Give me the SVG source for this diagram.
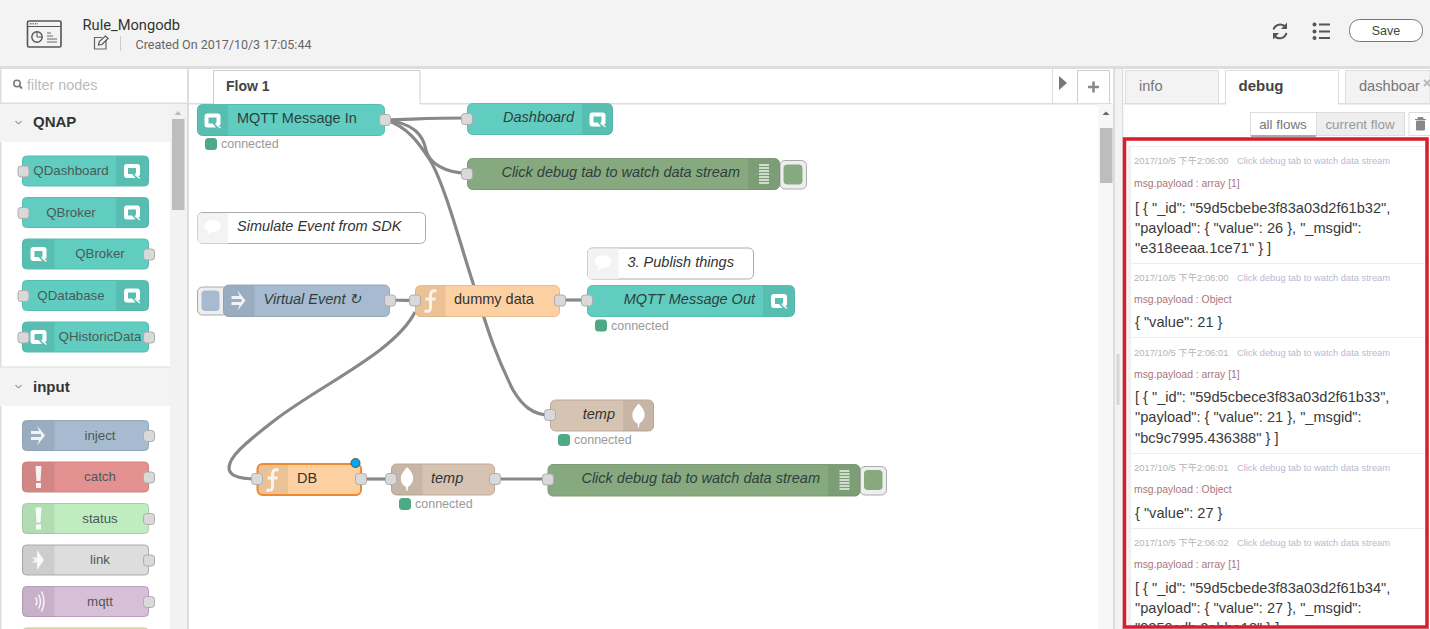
<svg xmlns="http://www.w3.org/2000/svg" width="1430" height="629" viewBox="0 0 1430 629">
<style>
text{font-family:"Liberation Sans",Arial,sans-serif;fill:#333}
.rb{font-family:Roboto,"Liberation Sans",sans-serif}
.n{font-size:13.300px;text-anchor:middle;fill:#4a5a58;transform:translateY(-.5px)}
.fl{font-size:14.500px;fill:#2f3f3d;transform:translateY(-.7px)}
.i{font-style:italic}
.q{fill:#60cdc0;stroke:#58bdb1}
.qi{fill:#000;opacity:.07}
.port{fill:#d9d9d9;stroke:#adadad;stroke-width:1;width:11px;height:11px;transform:translate(-.5px,-.5px)}
.wire{fill:none;stroke:#888;stroke-width:3.200}
.st{font-size:12.500px;fill:#9a9a9a}
.dot{fill:#4fa886}
.ts{font-size:9.400px;fill:#b4b4b4}
.src{font-size:9.300px;fill:#b9b9d2}
.mp{font-size:10.400px;fill:#a9767c}
.v{font-size:14.600px;fill:#3a3a3a}
.sep{stroke:#eee;stroke-width:1}
.hd{font-size:15px;font-weight:bold;fill:#333}
.tab{font-size:14.600px;fill:#777}
.tog{fill:#eee;stroke:#aaa;stroke-width:1}
</style>
<defs>
<g id="qlogo"><path fill="#fff" d="M-8-4a3 3 0 0 1 3-3H5a3 3 0 0 1 3 3V4L6 5.500 3 2.500 4 2V-3H-4V3H0L3.500 7H-5a3 3 0 0 1-3-3Z"/><path d="M3 3.500L8 7.500" stroke="#fff" stroke-width="1.300"/></g>
<g id="arrow"><path fill="#fff" opacity=".85" d="M-7-4.500H1L-1-10 7 0-1 10 1 4.500H-7V1.500H3V-1.500H-7Z"/></g>
<g id="warn"><path fill="#fff" opacity=".9" d="M-3-11H3L2 4H-2ZM-2.500 6H2.500V11H-2.500Z"/></g>
<g id="fn"><path fill="none" stroke="#fff" stroke-width="3" opacity=".8" d="M6-10C1-11 0-9 0-5V6C0 10-1 11-6 10M-5-2H5"/></g>
<g id="leaf"><path fill="#fff" d="M0-12C4-8 7-4 6 1 5 5 2 7 1 8L.5 12H-.5L-1 8C-3 7-6 4-6 1-7-4-3-8 0-12Z"/></g>
<g id="lines"><path stroke="#fff" stroke-width="1.400" opacity=".85" d="M-5-9H5M-5-6H5M-5-3H5M-5 0H5M-5 3H5M-5 6H5M-5 9H5"/></g>
<g id="bubble"><path fill="#fff" d="M-8-1C-8-5-4-7 0-7S8-5 8-1 4 5 0 5L-5 8-4 4C-6 3-8 2-8-1Z"/></g>
<g id="link"><path fill="#fff" opacity=".85" d="M-6-3L-1-2V-10L6 0-1 10V2L-6 3-3 0Z"/></g>
<g id="wave"><path fill="none" stroke="#fff" stroke-width="1.500" opacity=".85" d="M-3-4Q0 0-3 4M0-7Q4 0 0 7M3-10Q8 0 3 10"/></g>
<clipPath id="clipDbg"><rect x="1126" y="141" width="299" height="485"/></clipPath>
<clipPath id="clipPal"><rect x="0" y="104" width="170" height="525"/></clipPath>
</defs>

<rect width="1430" height="629" fill="#fff"/>
<g id="header">
<rect width="1430" height="66" fill="#f3f3f3"/>
<rect y="66" width="1430" height="3" fill="#ddd"/>
<rect x="27.500" y="21" width="33.500" height="26" rx="1.500" fill="none" stroke="#555" stroke-width="1.600"/>
<path d="M27.500 26.500H61" stroke="#555"/>
<path d="M30 23.800H38" stroke="#777" stroke-width="1.500" stroke-dasharray="1.500 1"/>
<circle cx="37" cy="37" r="5.200" fill="none" stroke="#555" stroke-width="1.400"/>
<path d="M37 37V32M37 37H42" stroke="#555"/>
<path d="M47 33H51M47 36H53M47 39H57M47 42H57" stroke="#666" stroke-width="1.200"/>
<text class="rb" x="82.500" y="30" font-size="14.700">Rule_Mongodb</text>
<path d="M106 40V49H94.500V37.500H102" fill="none" stroke="#666" stroke-width="1.200"/>
<path d="M98.500 45L99.300 41.500 105.500 36 108 38.500 102 44.500Z" fill="none" stroke="#555" stroke-width="1.200"/>
<path d="M120.500 36V51" stroke="#ccc"/>
<text class="rb" x="135.500" y="49" font-size="12.500" style="fill:#666">Created On 2017/10/3 17:05:44</text>
<g fill="none" stroke="#555" stroke-width="2">
<path d="M1273.500 29.500A7 7 0 0 1 1285.500 27M1286.500 33A7 7 0 0 1 1274.500 36"/>
</g>
<path d="M1287 22.500V29H1281ZM1273 39.500V33H1279Z" fill="#555"/>
<g fill="#555"><circle cx="1314.500" cy="24.500" r="2"/><circle cx="1314.500" cy="31.500" r="2"/><circle cx="1314.500" cy="38" r="2"/></g>
<path d="M1319 24.500H1330M1319 31.500H1330M1319 38H1330" stroke="#555" stroke-width="2"/>
<rect x="1349.500" y="19.500" width="73" height="22" rx="10" fill="#fff" stroke="#777"/>
<text x="1386" y="35" font-size="12.500" text-anchor="middle" style="fill:#444">Save</text>
</g>

<g id="palette">
<rect x="0" y="69" width="187" height="560" fill="#fff"/>
<rect x="0" y="69" width="1.500" height="560" fill="#ddd"/>
<rect x="170" y="104" width="17" height="525" fill="#f2f2f2"/>
<rect x="187" y="69" width="2" height="560" fill="#ddd"/>
<rect x="172" y="119" width="12.500" height="91" fill="#bdbdbd"/>
<path d="M174.500 115L178 111 181.500 115Z" fill="#bbb"/>
<rect x="0" y="102.500" width="187" height="1.500" fill="#ddd"/>
<circle cx="17" cy="83.500" r="3.200" fill="none" stroke="#777" stroke-width="1.500"/>
<path d="M19.500 86L22 88.500" stroke="#777" stroke-width="1.800"/>
<text x="27" y="90" font-size="14.400" style="fill:#bbb">filter nodes</text>
<rect x="0" y="104" width="170" height="38" fill="#f3f3f3"/>
<rect x="0" y="367" width="170" height="39" fill="#f3f3f3"/>
<rect x="0" y="366.500" width="170" height="1" fill="#ddd"/>
<path d="M15.500 121L18.500 124 21.500 121M15.500 385L18.500 388 21.500 385" fill="none" stroke="#666"/>
<text class="hd" x="33" y="127">QNAP</text>
<text class="hd" x="33" y="392">input</text>
<g clip-path="url(#clipPal)">
<g id="p-qdashboard"><rect x="22.500" y="156" width="126" height="30" rx="4" class="q"/><path d="M116 156.500H145a3.500 3.500 0 0 1 3.500 3.500V182a3.500 3.500 0 0 1-3.500 3.500H116Z" class="qi"/><use href="#qlogo" x="132" y="171"/><rect x="18.500" y="166.500" width="10" height="10" rx="3" class="port"/><text class="n" x="71" y="175.500">QDashboard</text></g>
<g id="p-qbroker-out"><rect x="22.500" y="197.500" width="126" height="30" rx="4" class="q"/><path d="M116 198H145a3.500 3.500 0 0 1 3.500 3.500V224a3.500 3.500 0 0 1-3.500 3.500H116Z" class="qi"/><use href="#qlogo" x="132" y="212.500"/><rect x="18.500" y="208" width="10" height="10" rx="3" class="port"/><text class="n" x="71" y="217">QBroker</text></g>
<g id="p-qbroker-in"><rect x="22.500" y="239" width="126" height="30" rx="4" class="q"/><path d="M54.500 239.500H26a3.500 3.500 0 0 0-3.500 3.500V265a3.500 3.500 0 0 0 3.500 3.500H54.500Z" class="qi"/><use href="#qlogo" x="38.500" y="254"/><rect x="144" y="249.500" width="10" height="10" rx="3" class="port"/><text class="n" x="100" y="258.500">QBroker</text></g>
<g id="p-qdatabase"><rect x="22.500" y="280.500" width="126" height="30" rx="4" class="q"/><path d="M116 281H145a3.500 3.500 0 0 1 3.500 3.500V307a3.500 3.500 0 0 1-3.500 3.500H116Z" class="qi"/><use href="#qlogo" x="132" y="295.500"/><rect x="18.500" y="291" width="10" height="10" rx="3" class="port"/><text class="n" x="71" y="300">QDatabase</text></g>
<g id="p-qhistoric"><rect x="22.500" y="322" width="126" height="30" rx="4" class="q"/><path d="M54.500 322.500H26a3.500 3.500 0 0 0-3.500 3.500V348a3.500 3.500 0 0 0 3.500 3.500H54.500Z" class="qi"/><use href="#qlogo" x="38.500" y="337"/><rect x="18.500" y="332.500" width="10" height="10" rx="3" class="port"/><rect x="144" y="332.500" width="10" height="10" rx="3" class="port"/><text class="n" x="100" y="341.500">QHistoricData</text></g>
<g id="p-inject"><rect x="22.500" y="420.500" width="126" height="30" rx="4" fill="#a6bbcf" stroke="#95a8ba"/><path d="M54.500 421H26a3.500 3.500 0 0 0-3.500 3.500V447a3.500 3.500 0 0 0 3.500 3.500H54.500Z" class="qi"/><use href="#arrow" x="38" y="435.500"/><rect x="144" y="431" width="10" height="10" rx="3" class="port"/><text class="n" x="100" y="440">inject</text></g>
<g id="p-catch"><rect x="22.500" y="462" width="126" height="30" rx="4" fill="#e49191" stroke="#cd8383"/><path d="M54.500 462.500H26a3.500 3.500 0 0 0-3.500 3.500V488a3.500 3.500 0 0 0 3.500 3.500H54.500Z" class="qi"/><use href="#warn" x="38.500" y="477"/><rect x="144" y="472.500" width="10" height="10" rx="3" class="port"/><text class="n" x="100" y="481.500">catch</text></g>
<g id="p-status"><rect x="22.500" y="503.500" width="126" height="30" rx="4" fill="#c0edc0" stroke="#a9cfa9"/><path d="M54.500 504H26a3.500 3.500 0 0 0-3.500 3.500V530a3.500 3.500 0 0 0 3.500 3.500H54.500Z" class="qi"/><use href="#warn" x="38.500" y="518.500"/><rect x="144" y="514" width="10" height="10" rx="3" class="port"/><text class="n" x="100" y="523">status</text></g>
<g id="p-link"><rect x="22.500" y="545" width="126" height="30" rx="4" fill="#ddd" stroke="#aaa"/><path d="M54.500 545.500H26a3.500 3.500 0 0 0-3.500 3.500V571a3.500 3.500 0 0 0 3.500 3.500H54.500Z" class="qi"/><use href="#link" x="38" y="560"/><rect x="144" y="555.500" width="10" height="10" rx="3" class="port"/><text class="n" x="100" y="564.500">link</text></g>
<g id="p-mqtt"><rect x="22.500" y="586.500" width="126" height="30" rx="4" fill="#d8bfd8" stroke="#b5a1b5"/><path d="M54.500 587H26a3.500 3.500 0 0 0-3.500 3.500V613a3.500 3.500 0 0 0 3.500 3.500H54.500Z" class="qi"/><use href="#wave" x="38.500" y="601.500"/><rect x="144" y="597" width="10" height="10" rx="3" class="port"/><text class="n" x="100" y="606">mqtt</text></g>
<rect id="p-next" x="22.500" y="628" width="126" height="30" rx="4" fill="#e6e0b4" stroke="#c9c5a2"/>
</g>
</g>

<g id="workspace-chrome">
<rect x="189" y="103" width="923" height="1.500" fill="#ddd"/>
<path d="M213.500 103.500V70.500H420V103.500" fill="#fff" stroke="#ccc"/>
<rect x="214" y="100" width="205.500" height="5" fill="#fff"/>
<text x="226" y="91" font-size="14" font-weight="bold" style="fill:#444">Flow 1</text>
<path d="M1052.500 69V103" stroke="#ddd"/>
<path d="M1059 76L1067 83 1059 90Z" fill="#777"/>
<path d="M1077.500 103V70.500H1109.500V103" fill="#fff" stroke="#ccc"/>
<path d="M1088 87H1099M1093.500 81.500V92.500" stroke="#888" stroke-width="2.500"/>
<rect x="1098" y="104" width="15" height="525" fill="#f7f7f7"/>
<path d="M1102.500 115L1106 111.500 1109.500 115Z" fill="#666"/>
<rect x="1100" y="128" width="12.500" height="55" fill="#bdbdbd"/>
<rect x="1113" y="66" width="2" height="563" fill="#ddd"/>
<rect x="1115" y="69" width="7" height="560" fill="#f3f3f3"/>
<rect x="1116.500" y="354" width="3" height="51" fill="#d5d5d5"/>
<rect x="1122" y="66" width="1.500" height="563" fill="#ddd"/>
</g>

<g id="connectors">
<path class="wire" d="M385 120C420 119 430 118 467 118"/>
<path class="wire" d="M385 120C414 123 423 135 426 150C429 163 445 173 467 173"/>
<path class="wire" d="M385 120C408 126 420 145 430 160C445 185 462 250 473 283C485 320 492 348 513 390C522 405 532 415 550 415"/>
<path class="wire" d="M390 300C400 300 405 301 415 300"/>
<path class="wire" d="M415 312C395 352 322 384 275 420C240 447 229 458 229 468C229 475 238 479 257 479"/>
<path class="wire" d="M560 300H587"/>
<path class="wire" d="M361 479H391"/>
<path class="wire" d="M495 479H548"/>
</g>

<g id="n-mqtt-in"><rect x="197.500" y="104.500" width="187" height="31" rx="5" class="q"/><path d="M228 105H202a4.500 4.500 0 0 0-4.500 4.500V131a4.500 4.500 0 0 0 4.500 4.500H228Z" class="qi"/><use href="#qlogo" x="212.500" y="120.500"/><rect x="380" y="115" width="10" height="10" rx="3" class="port"/><text class="fl" x="237" y="124">MQTT Message In</text><rect x="205" y="138" width="12" height="12" rx="3.500" class="dot"/><text class="st" x="221" y="148">connected</text></g>
<g id="n-dashboard"><rect x="467.500" y="103.500" width="145" height="31" rx="5" class="q"/><path d="M582 104H608a4.500 4.500 0 0 1 4.500 4.500V130a4.500 4.500 0 0 1-4.500 4.500H582Z" class="qi"/><use href="#qlogo" x="597.500" y="119.500"/><rect x="462" y="114" width="10" height="10" rx="3" class="port"/><text class="fl i" x="574" y="123" text-anchor="end">Dashboard</text></g>
<g id="n-debug1"><rect x="780" y="160.500" width="26.500" height="28.500" rx="5" class="tog"/><rect x="783.500" y="164.500" width="19" height="20" rx="4" fill="#87a980"/><rect x="467.500" y="158.500" width="312" height="31" rx="5" fill="#87a980" stroke="#7c9b76"/><path d="M748 159H775a4.500 4.500 0 0 1 4.500 4.500V185a4.500 4.500 0 0 1-4.500 4.500H748Z" class="qi"/><use href="#lines" x="764" y="174"/><rect x="462" y="169" width="10" height="10" rx="3" class="port"/><text class="fl i" x="740" y="178" text-anchor="end">Click debug tab to watch data stream</text></g>
<g id="n-comment1"><rect x="197.500" y="212.500" width="228" height="31" rx="5" fill="#fff" stroke="#aaa"/><path d="M228 213H202a4.500 4.500 0 0 0-4.500 4.500V239a4.500 4.500 0 0 0 4.500 4.500H228Z" fill="#f3f3f3"/><use href="#bubble" x="212.500" y="227"/><text class="fl i" x="237" y="232" style="fill:#333">Simulate Event from SDK</text></g>
<g id="n-comment2"><rect x="587.500" y="248" width="166" height="31" rx="5" fill="#fff" stroke="#aaa"/><path d="M618.500 248.500H592a4.500 4.500 0 0 0-4.500 4.500V274.500a4.500 4.500 0 0 0 4.500 4.500H618.500Z" fill="#f3f3f3"/><use href="#bubble" x="603" y="262.500"/><text class="fl i" x="627.500" y="267.500" style="fill:#333">3. Publish things</text></g>
<g id="n-inject"><rect x="197.500" y="287" width="30" height="28" rx="5" class="tog"/><rect x="201.500" y="290.500" width="18" height="20.500" rx="4" fill="#a6bbcf"/><rect x="223.500" y="285" width="166" height="31.500" rx="5" fill="#a6bbcf" stroke="#95a8ba"/><path d="M254.500 285.500H228a4.500 4.500 0 0 0-4.500 4.500V312a4.500 4.500 0 0 0 4.500 4.500H254.500Z" class="qi"/><use href="#arrow" x="238.500" y="300.500"/><rect x="385" y="295.500" width="10" height="10" rx="3" class="port"/><text class="fl i" x="263.500" y="305">Virtual Event ↻</text></g>
<g id="n-dummy"><rect x="415.500" y="285.500" width="144" height="31" rx="5" fill="#fdd0a2" stroke="#e5bc92"/><path d="M445.500 286H420a4.500 4.500 0 0 0-4.500 4.500V312a4.500 4.500 0 0 0 4.500 4.500H445.500Z" class="qi"/><use href="#fn" x="430.500" y="301"/><rect x="410" y="295.500" width="10" height="10" rx="3" class="port"/><rect x="555" y="295.500" width="10" height="10" rx="3" class="port"/><text class="fl" x="454" y="305" style="fill:#333">dummy data</text></g>
<g id="n-mqtt-out"><rect x="587.500" y="285.500" width="207" height="31" rx="5" class="q"/><path d="M763 286H790a4.500 4.500 0 0 1 4.500 4.500V312a4.500 4.500 0 0 1-4.500 4.500H763Z" class="qi"/><use href="#qlogo" x="779" y="301"/><rect x="582" y="295.500" width="10" height="10" rx="3" class="port"/><text class="fl i" x="755" y="305" text-anchor="end">MQTT Message Out</text><rect x="595" y="319.500" width="12" height="12" rx="3.500" class="dot"/><text class="st" x="611" y="329.500">connected</text></g>
<g id="n-temp1"><rect x="550.500" y="400" width="103" height="31" rx="5" fill="#d7c3b2" stroke="#bcaa9b"/><path d="M623 400.500H649a4.500 4.500 0 0 1 4.500 4.500V426.500a4.500 4.500 0 0 1-4.500 4.500H623Z" class="qi"/><use href="#leaf" x="638.500" y="415.500"/><rect x="545" y="410" width="10" height="10" rx="3" class="port"/><text class="fl i" x="615" y="420" text-anchor="end" style="fill:#333">temp</text><rect x="558" y="434" width="12" height="12" rx="3.500" class="dot"/><text class="st" x="574" y="444">connected</text></g>
<g id="n-db"><rect x="257.500" y="464" width="103.500" height="31" rx="5" fill="#fdd0a2" stroke="#f08a2c" stroke-width="2"/><path d="M288 465H262a4 4 0 0 0-4 4V490a4 4 0 0 0 4 4H288Z" class="qi"/><use href="#fn" x="272.500" y="480"/><rect x="252" y="474" width="10" height="10" rx="3" class="port"/><rect x="356" y="474" width="10" height="10" rx="3" class="port"/><text class="fl" x="297" y="484" style="fill:#333">DB</text><circle cx="355.500" cy="463" r="4.500" fill="#00a8f0" stroke="#555" stroke-width="1"/></g>
<g id="n-temp2"><rect x="391.500" y="464" width="103" height="31" rx="5" fill="#d7c3b2" stroke="#bcaa9b"/><path d="M422.500 464.500H396a4.500 4.500 0 0 0-4.500 4.500V490.500a4.500 4.500 0 0 0 4.500 4.500H422.500Z" class="qi"/><use href="#leaf" x="407" y="479"/><rect x="386" y="474" width="10" height="10" rx="3" class="port"/><rect x="490" y="474" width="10" height="10" rx="3" class="port"/><text class="fl i" x="431" y="484" style="fill:#333">temp</text><rect x="399" y="498" width="12" height="12" rx="3.500" class="dot"/><text class="st" x="415" y="508">connected</text></g>
<g id="n-debug2"><rect x="860" y="466.500" width="26.500" height="28.500" rx="5" class="tog"/><rect x="864" y="470" width="18.500" height="20" rx="4" fill="#87a980"/><rect x="548" y="464.500" width="312" height="31.500" rx="5" fill="#87a980" stroke="#7c9b76"/><path d="M828 465H855.500a4.500 4.500 0 0 1 4.500 4.500V491.500a4.500 4.500 0 0 1-4.500 4.500H828Z" class="qi"/><use href="#lines" x="844.500" y="480"/><rect x="543" y="474.500" width="10" height="10" rx="3" class="port"/><text class="fl i" x="820" y="484" text-anchor="end">Click debug tab to watch data stream</text></g>

<g id="sidebar">
<rect x="1123.500" y="69" width="306.500" height="560" fill="#fff"/>
<rect x="1123.500" y="103" width="306.500" height="1.500" fill="#ddd"/>
<path d="M1125.500 103V70.500H1218.500V103" fill="#f3f3f3" stroke="#ddd"/>
<path d="M1225.500 104V70.500H1338.500V104" fill="#fff" stroke="#ddd"/>
<rect x="1226" y="102" width="112" height="3" fill="#fff"/>
<path d="M1345.500 103V70.500H1430V103" fill="#f3f3f3" stroke="#ddd"/>
<text class="tab" x="1139" y="91">info</text>
<text x="1238.500" y="91" font-size="15" font-weight="bold" style="fill:#444">debug</text>
<text class="tab" x="1359" y="91">dashboar</text>
<path d="M1424 80L1430 86M1430 80L1424 86" stroke="#bbb" stroke-width="2"/>
<rect x="1250.500" y="112.500" width="66" height="23" fill="#fff" stroke="#ddd"/>
<rect x="1316.500" y="112.500" width="88" height="23" fill="#eee" stroke="#ddd"/>
<rect x="1251" y="135" width="65" height="2" fill="#aaa"/>
<text x="1283" y="129" font-size="13.400" text-anchor="middle" style="fill:#777">all flows</text>
<text x="1360" y="129" font-size="13.400" text-anchor="middle" style="fill:#999">current flow</text>
<rect x="1409" y="112.500" width="25" height="23" fill="#fff" stroke="#ddd"/>
<path d="M1415 119.500H1426M1418 119V117.500H1423V119M1416.500 121H1424.500V130H1416.500Z" fill="#888" stroke="#888"/>
</g>

<g id="debug-log" clip-path="url(#clipDbg)">
<rect x="1127" y="146" width="300" height="483" fill="#fff"/>
<rect x="1127.500" y="146" width="3.500" height="483" fill="#f0f0f0"/>
<path class="sep" d="M1131 146.500H1425M1131 263.500H1425M1131 337.500H1425M1131 453.500H1425M1131 528.500H1425"/>
<text class="ts" x="1134" y="164">2017/10/5 <tspan font-family="Noto Sans CJK TC">下午</tspan>2:06:00</text><text class="src" x="1237" y="164">Click debug tab to watch data stream</text>
<text class="mp" x="1134" y="187">msg.payload : array [1]</text>
<text class="v" x="1135" y="213">[ { "_id": "59d5cbebe3f83a03d2f61b32",</text>
<text class="v" x="1135" y="233">"payload": { "value": 26 }, "_msgid":</text>
<text class="v" x="1135" y="253">"e318eeaa.1ce71" } ]</text>
<text class="ts" x="1134" y="281">2017/10/5 <tspan font-family="Noto Sans CJK TC">下午</tspan>2:06:00</text><text class="src" x="1237" y="281">Click debug tab to watch data stream</text>
<text class="mp" x="1134" y="303">msg.payload : Object</text>
<text class="v" x="1135" y="327">{ "value": 21 }</text>
<text class="ts" x="1134" y="356">2017/10/5 <tspan font-family="Noto Sans CJK TC">下午</tspan>2:06:01</text><text class="src" x="1237" y="356">Click debug tab to watch data stream</text>
<text class="mp" x="1134" y="378">msg.payload : array [1]</text>
<text class="v" x="1135" y="402">[ { "_id": "59d5cbece3f83a03d2f61b33",</text>
<text class="v" x="1135" y="422">"payload": { "value": 21 }, "_msgid":</text>
<text class="v" x="1135" y="443">"bc9c7995.436388" } ]</text>
<text class="ts" x="1134" y="471">2017/10/5 <tspan font-family="Noto Sans CJK TC">下午</tspan>2:06:01</text><text class="src" x="1237" y="471">Click debug tab to watch data stream</text>
<text class="mp" x="1134" y="493">msg.payload : Object</text>
<text class="v" x="1135" y="518">{ "value": 27 }</text>
<text class="ts" x="1134" y="546">2017/10/5 <tspan font-family="Noto Sans CJK TC">下午</tspan>2:06:02</text><text class="src" x="1237" y="546">Click debug tab to watch data stream</text>
<text class="mp" x="1134" y="568">msg.payload : array [1]</text>
<text class="v" x="1135" y="593">[ { "_id": "59d5cbede3f83a03d2f61b34",</text>
<text class="v" x="1135" y="613">"payload": { "value": 27 }, "_msgid":</text>
<text class="v" x="1135" y="633">"9250cdb.2ebba18" } ]</text>
</g>
<rect id="highlight" x="1124.500" y="139" width="302.500" height="488" fill="none" stroke="#d81e2c" stroke-width="3.500"/>
</svg>
